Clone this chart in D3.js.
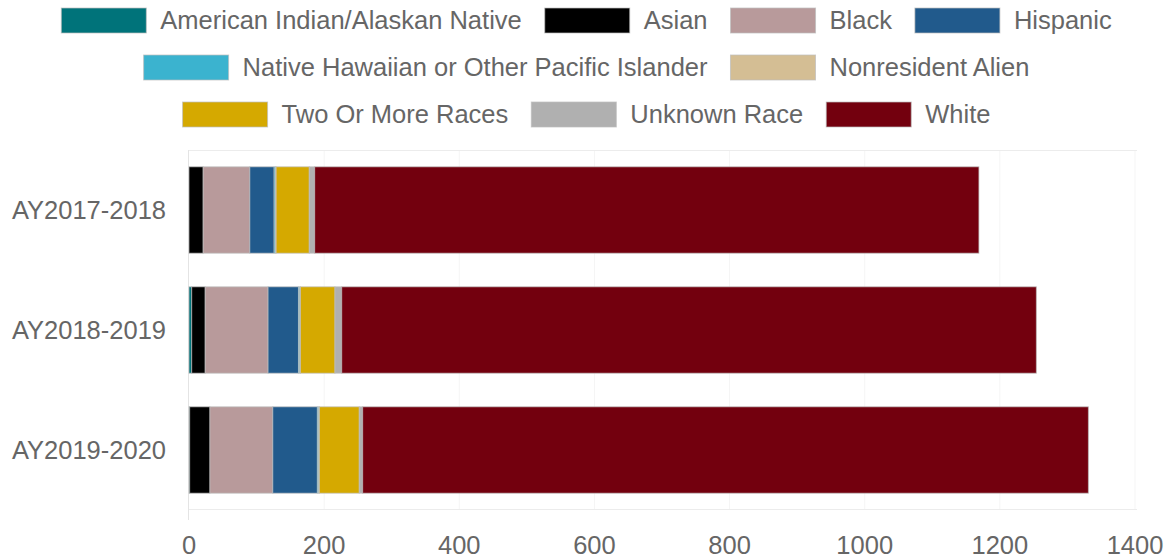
<!DOCTYPE html>
<html>
<head>
<meta charset="utf-8">
<script src="https://cdn.jsdelivr.net/npm/d3@7"></script>
<style>
  body { margin: 0; background: #fff; }
  text { font-family: "Liberation Sans", Arial, Helvetica, sans-serif; }
</style>
</head>
<body>
<div id="chart"></div>
<script>
var WIDTH = 1173, HEIGHT = 560;

// academic years (y categories)
var years = ['AY2017-2018', 'AY2018-2019', 'AY2019-2020'];

// race / ethnicity series, in stacking order
var races = ['American Indian/Alaskan Native', 'Asian', 'Black', 'Hispanic',
    'Native Hawaiian or Other Pacific Islander', 'Nonresident Alien',
    'Two Or More Races', 'Unknown Race', 'White'];
var raceColors = ['#00737a', '#000000', '#b89a9b', '#215a8c', '#3bb3cf',
    '#d4be94', '#d5a900', '#b0b0b0', '#73000e'];

// headcounts per year, one array per race (same order as races)
var amIndian   = [0, 4, 1];
var asian      = [21, 20, 30];
var black      = [69, 93, 93];
var hispanic   = [36, 45, 66];
var hawaiian   = [2, 2, 2];
var nonres     = [1, 1, 1];
var twoOrMore  = [49, 51, 59];
var unknown    = [8, 10, 5];
var white      = [983, 1028, 1074];

var xTicks = [0, 200, 400, 600, 800, 1000, 1200, 1400];

var seriesValues = [amIndian, asian, black, hispanic, hawaiian, nonres, twoOrMore, unknown, white];

//build rows for d3.stack
var rows = years.map(function(y, i) {
    var row = {year: y};
    races.forEach(function(r, j) { row[r] = seriesValues[j][i]; });
    return row;
});

var svg = d3.select('#chart')
    .append('svg')
    .attr('width', WIDTH)
    .attr('height', HEIGHT);

var x = d3.scaleLinear().domain([0, 1400]).range([189, 1135]);
var y = d3.scaleBand().domain(years).range([150, 510])
    .paddingInner(0.28).paddingOuter(0.14);

var FONT = '25.5px';

//grid lines
svg.append('g').selectAll('line')
    .data(xTicks.slice(1))
    .enter().append('line')
    .attr('x1', d => x(d)).attr('x2', d => x(d))
    .attr('y1', 150).attr('y2', 510)
    .attr('stroke', '#f5f5f5').attr('stroke-width', 1);
svg.append('line').attr('x1', 189).attr('x2', 1137).attr('y1', 150.5).attr('y2', 150.5)
    .attr('stroke', '#ececec');
svg.append('line').attr('x1', 189).attr('x2', 1137).attr('y1', 509.5).attr('y2', 509.5)
    .attr('stroke', '#ececec');
svg.append('line').attr('x1', 188.5).attr('x2', 188.5).attr('y1', 150).attr('y2', 520)
    .attr('stroke', '#e4e4e4');

//stacked bars
var stacked = d3.stack().keys(races)(rows);
svg.append('g').selectAll('g')
    .data(stacked)
    .enter().append('g')
    .attr('fill', (d, i) => raceColors[i])
    .selectAll('rect')
    .data(d => d)
    .enter().append('rect')
    .attr('x', d => x(d[0]))
    .attr('width', d => Math.max(0, x(d[1]) - x(d[0])))
    .attr('y', d => y(d.data.year))
    .attr('height', y.bandwidth())
    .attr('stroke', 'rgba(190,190,190,0.7)')
    .attr('stroke-width', 1);

//y axis labels
svg.append('g').selectAll('text')
    .data(years)
    .enter().append('text')
    .attr('x', 166)
    .attr('y', d => y(d) + y.bandwidth() / 2)
    .attr('dy', '0.35em')
    .attr('text-anchor', 'end')
    .attr('fill', '#666')
    .style('font-size', FONT)
    .text(d => d);

//x axis labels
svg.append('g').selectAll('text')
    .data(xTicks)
    .enter().append('text')
    .attr('x', d => x(d))
    .attr('y', 545)
    .attr('dy', '0.35em')
    .attr('text-anchor', 'middle')
    .attr('fill', '#666')
    .style('font-size', FONT)
    .text(d => d);

//legend, wrapped into centred rows like chart.js
var BOX_W = 85, BOX_H = 25, BOX_GAP = 14, ITEM_GAP = 23;
var legend = svg.append('g').attr('class', 'legend');
var items = races.map(function(r, i) {
    var g = legend.append('g');
    g.append('rect')
        .attr('width', BOX_W).attr('height', BOX_H)
        .attr('fill', raceColors[i])
        .attr('stroke', 'rgba(190,190,190,0.7)').attr('stroke-width', 1);
    var t = g.append('text')
        .attr('x', BOX_W + BOX_GAP)
        .attr('y', BOX_H / 2)
        .attr('dy', '0.35em')
        .attr('fill', '#666')
        .style('font-size', FONT)
        .text(r);
    return {g: g, w: BOX_W + BOX_GAP + t.node().getComputedTextLength()};
});

var legendRows = [[]], rowW = 0;
items.forEach(function(it) {
    var cur = legendRows[legendRows.length - 1];
    var add = (cur.length ? ITEM_GAP : 0) + it.w;
    if (cur.length && rowW + add > WIDTH - 20) {
        legendRows.push([it]);
        rowW = it.w;
    } else {
        cur.push(it);
        rowW += add;
    }
});
legendRows.forEach(function(row, ri) {
    var total = d3.sum(row, d => d.w) + ITEM_GAP * (row.length - 1);
    var cx = (WIDTH - total) / 2;
    row.forEach(function(it) {
        it.g.attr('transform', 'translate(' + cx + ',' + (8 + ri * 47) + ')');
        cx += it.w + ITEM_GAP;
    });
});
</script>
</body>
</html>
